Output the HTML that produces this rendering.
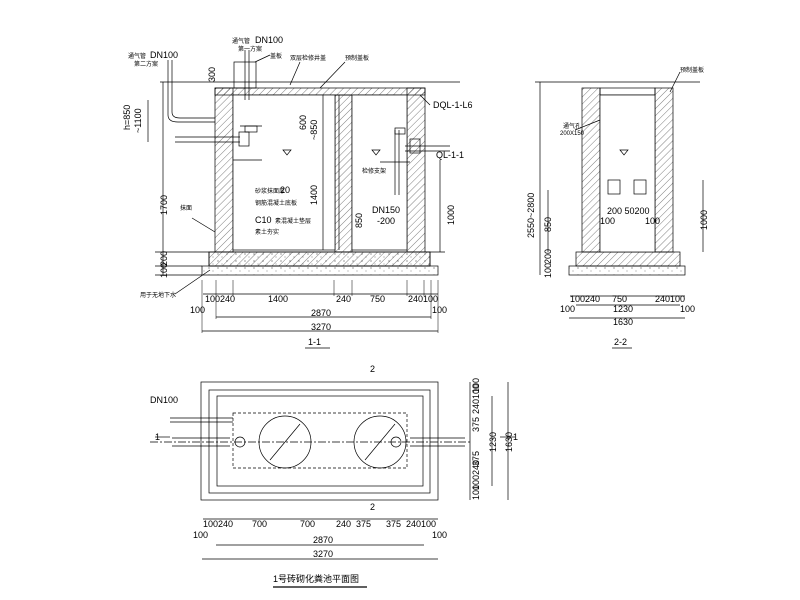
<!DOCTYPE html>
<html><head><meta charset="utf-8"><style>
html,body{margin:0;padding:0;background:#fff}
svg{display:block}
text{font-family:"Liberation Sans","Noto Sans CJK SC",sans-serif;fill:#000}
.t{font-size:9px}
.s{font-size:6px}
</style></head><body>
<svg width="800" height="600" viewBox="0 0 800 600" xmlns="http://www.w3.org/2000/svg">
<defs>
<pattern id="h" width="5" height="5" patternUnits="userSpaceOnUse" patternTransform="rotate(45)">
<line x1="0" y1="0" x2="0" y2="5" stroke="#000" stroke-width="0.5"/></pattern>
<pattern id="c" width="9" height="7" patternUnits="userSpaceOnUse">
<circle cx="2" cy="2" r="0.5" fill="#000"/><circle cx="6" cy="5" r="0.4" fill="#000"/></pattern>
</defs>
<g fill="none" stroke="#000" stroke-width="0.7">
<!-- ===== 1-1 ===== -->
<line x1="160" y1="82" x2="460" y2="82"/>
<rect x="202" y="266" width="236" height="9" fill="url(#c)"/>
<rect x="209" y="252" width="221" height="14" fill="url(#h)"/>
<rect x="209" y="252" width="221" height="14" fill="url(#c)"/>
<rect x="215" y="88" width="18" height="164" fill="url(#h)"/>
<rect x="335" y="95" width="17" height="157" fill="url(#h)"/>
<rect x="407" y="88" width="18" height="164" fill="url(#h)"/>
<rect x="215" y="88" width="210" height="7" fill="url(#h)"/>
<rect x="233" y="95" width="102" height="155" fill="#fff"/>
<rect x="352" y="95" width="55" height="155" fill="#fff"/>
<line x1="323" y1="95" x2="323" y2="250"/>
<line x1="339" y1="95" x2="339" y2="250"/>
<rect x="234" y="62" width="22" height="26"/>
<line x1="245" y1="50" x2="245" y2="100"/><line x1="249" y1="50" x2="249" y2="100"/>
<line x1="168" y1="60" x2="168" y2="115"/><line x1="172" y1="60" x2="172" y2="112"/>
<path d="M168 115 Q168 122 178 122 L215 122 M172 112 Q172 118 180 118 L215 118"/>
<line x1="175" y1="137" x2="240" y2="137"/><line x1="175" y1="142" x2="240" y2="142"/>
<rect x="239" y="132" width="10" height="14"/>
<line x1="240" y1="126" x2="262" y2="126"/><rect x="245" y="126" width="12" height="6"/>
<line x1="233" y1="160" x2="262" y2="160"/>
<line x1="395" y1="130" x2="395" y2="195"/><line x1="399" y1="130" x2="399" y2="195"/>
<rect x="395" y="128" width="10" height="6"/>
<rect x="410" y="139" width="10" height="14"/>
<line x1="405" y1="146" x2="450" y2="146"/><line x1="405" y1="151" x2="450" y2="151"/>
<line x1="380" y1="162" x2="410" y2="162"/>
<path d="M283 150 l4 5 l4 -5 z"/><path d="M372 150 l4 5 l4 -5 z"/>
<line x1="163" y1="82" x2="163" y2="275"/>
<line x1="148" y1="100" x2="148" y2="142"/>
<line x1="155" y1="252" x2="209" y2="252"/><line x1="155" y1="266" x2="202" y2="266"/><line x1="155" y1="275" x2="202" y2="275"/>
<line x1="440" y1="160" x2="440" y2="252"/><line x1="425" y1="252" x2="445" y2="252"/>
<line x1="203" y1="294" x2="438" y2="294"/>
<line x1="216" y1="317" x2="431" y2="317"/>
<line x1="202" y1="331" x2="438" y2="331"/>
<g stroke-width="0.5">
<line x1="202" y1="280" x2="202" y2="333"/><line x1="216" y1="280" x2="216" y2="319"/><line x1="233" y1="280" x2="233" y2="296"/><line x1="334" y1="280" x2="334" y2="296"/><line x1="352" y1="280" x2="352" y2="296"/><line x1="407" y1="280" x2="407" y2="296"/><line x1="424" y1="280" x2="424" y2="296"/><line x1="431" y1="280" x2="431" y2="319"/><line x1="438" y1="280" x2="438" y2="333"/>
</g>
<line x1="305" y1="348" x2="330" y2="348"/>
<line x1="175" y1="294" x2="210" y2="270"/><line x1="192" y1="218" x2="215" y2="232"/>
<line x1="255" y1="62" x2="270" y2="55"/><line x1="290" y1="85" x2="300" y2="62"/><line x1="320" y1="88" x2="345" y2="62"/><line x1="420" y1="95" x2="430" y2="105"/>
<!-- ===== 2-2 ===== -->
<line x1="535" y1="82" x2="700" y2="82"/>
<rect x="569" y="266" width="116" height="9" fill="url(#c)"/>
<rect x="576" y="252" width="104" height="14" fill="url(#h)"/>
<rect x="582" y="88" width="18" height="164" fill="url(#h)"/>
<rect x="655" y="88" width="18" height="164" fill="url(#h)"/>
<rect x="600" y="88" width="55" height="7"/>
<rect x="600" y="95" width="55" height="157" fill="#fff"/>
<rect x="608" y="180" width="12" height="14"/><rect x="634" y="180" width="12" height="14"/>
<path d="M620 150 l4 5 l4 -5 z"/>
<line x1="540" y1="82" x2="540" y2="275"/>
<line x1="548" y1="190" x2="548" y2="252"/>
<line x1="703" y1="180" x2="703" y2="252"/>
<line x1="570" y1="296" x2="685" y2="296"/>
<line x1="576" y1="305" x2="680" y2="305"/>
<line x1="569" y1="318" x2="685" y2="318"/>
<line x1="612" y1="348" x2="632" y2="348"/>
<line x1="680" y1="72" x2="670" y2="92"/><line x1="575" y1="130" x2="600" y2="120"/>
<!-- ===== plan ===== -->
<rect x="201" y="382" width="237" height="118"/>
<rect x="209" y="390" width="221" height="103"/>
<rect x="217" y="396" width="206" height="90"/>
<rect x="233" y="413" width="174" height="55" stroke-dasharray="3,2"/>
<circle cx="285" cy="442" r="26"/><circle cx="380" cy="442" r="26"/>
<line x1="270" y1="460" x2="300" y2="424"/><line x1="365" y1="460" x2="395" y2="424"/>
<line x1="150" y1="442" x2="470" y2="442" stroke-dasharray="8,2,2,2"/>
<line x1="172" y1="438" x2="230" y2="438"/><line x1="172" y1="446" x2="230" y2="446"/>
<line x1="410" y1="438" x2="465" y2="438"/><line x1="410" y1="446" x2="465" y2="446"/>
<circle cx="240" cy="442" r="5"/><circle cx="396" cy="442" r="5"/>
<line x1="170" y1="418" x2="233" y2="418"/><line x1="170" y1="422" x2="233" y2="422"/>
<line x1="203" y1="519" x2="438" y2="519"/>
<line x1="216" y1="545" x2="424" y2="545"/>
<line x1="202" y1="559" x2="438" y2="559"/>
<line x1="470" y1="382" x2="470" y2="500"/>
<line x1="492" y1="396" x2="492" y2="486"/>
<line x1="508" y1="382" x2="508" y2="500"/>
<line x1="273" y1="587" x2="367" y2="587" stroke-width="1.2"/>
<line x1="155" y1="437" x2="170" y2="437"/><line x1="500" y1="437" x2="515" y2="437"/>
</g>
<g class="t">
<text x="255" y="43">DN100</text><text x="150" y="58">DN100</text>
<text x="130" y="130" transform="rotate(-90 130 130)">h=850</text>
<text x="141" y="133" transform="rotate(-90 141 133)">~1100</text>
<text x="167" y="215" transform="rotate(-90 167 215)">1700</text>
<text x="167" y="266" transform="rotate(-90 167 266)">200</text>
<text x="167" y="278" transform="rotate(-90 167 278)">100</text>
<text x="215" y="82" transform="rotate(-90 215 82)">300</text>
<text x="306" y="130" transform="rotate(-90 306 130)">600</text>
<text x="317" y="140" transform="rotate(-90 317 140)">~850</text>
<text x="317" y="205" transform="rotate(-90 317 205)">1400</text>
<text x="362" y="228" transform="rotate(-90 362 228)">850</text>
<text x="372" y="213">DN150</text><text x="377" y="224">-200</text>
<text x="433" y="108">DQL-1-L6</text><text x="436" y="158">QL-1-1</text>
<text x="454" y="225" transform="rotate(-90 454 225)">1000</text>
<text x="205" y="302">100240</text><text x="268" y="302">1400</text><text x="336" y="302">240</text><text x="370" y="302">750</text><text x="408" y="302">240100</text>
<text x="190" y="313">100</text><text x="432" y="313">100</text>
<text x="311" y="316">2870</text><text x="311" y="330">3270</text>
<text x="308" y="345">1-1</text>
<text x="280" y="193">20</text><text x="255" y="223">C10</text>
<text x="534" y="238" transform="rotate(-90 534 238)">2550~2800</text>
<text x="551" y="232" transform="rotate(-90 551 232)">850</text>
<text x="551" y="264" transform="rotate(-90 551 264)">200</text>
<text x="551" y="278" transform="rotate(-90 551 278)">100</text>
<text x="707" y="230" transform="rotate(-90 707 230)">1000</text>
<text x="607" y="214">200 50200</text><text x="600" y="224">100</text><text x="645" y="224">100</text>
<text x="570" y="302">100240</text><text x="612" y="302">750</text><text x="655" y="302">240100</text>
<text x="560" y="312">100</text><text x="613" y="312">1230</text><text x="680" y="312">100</text>
<text x="613" y="325">1630</text>
<text x="614" y="345">2-2</text>
<text x="150" y="403">DN100</text>
<text x="203" y="527">100240</text><text x="252" y="527">700</text><text x="300" y="527">700</text><text x="336" y="527">240</text><text x="356" y="527">375</text><text x="386" y="527">375</text><text x="406" y="527">240100</text>
<text x="193" y="538">100</text><text x="432" y="538">100</text>
<text x="313" y="543">2870</text><text x="313" y="557">3270</text>
<text x="479" y="393" transform="rotate(-90 479 393)">100</text>
<text x="479" y="414" transform="rotate(-90 479 414)">240100</text>
<text x="479" y="432" transform="rotate(-90 479 432)">375</text>
<text x="479" y="466" transform="rotate(-90 479 466)">375</text>
<text x="479" y="490" transform="rotate(-90 479 490)">100240</text>
<text x="479" y="500" transform="rotate(-90 479 500)">100</text>
<text x="496" y="452" transform="rotate(-90 496 452)">1230</text>
<text x="512" y="452" transform="rotate(-90 512 452)">1630</text>
<text x="155" y="440">1</text><text x="513" y="440">1</text>
<text x="370" y="372">2</text><text x="370" y="510">2</text>
<text x="273" y="582">1号砖砌化粪池平面图</text>
</g>
<g class="s">
<text x="232" y="43">通气管</text><text x="238" y="51">第一方案</text>
<text x="128" y="58">通气管</text><text x="134" y="66">第二方案</text>
<text x="270" y="58">盖板</text><text x="290" y="60">双层检修井盖</text><text x="345" y="60">预制盖板</text>
<text x="255" y="193">砂浆抹面厚</text><text x="255" y="205">钢筋混凝土底板</text><text x="275" y="223">素混凝土垫层</text><text x="255" y="234">素土夯实</text>
<text x="362" y="173">检修支架</text><text x="180" y="210">抹面</text><text x="140" y="297">用于无地下水</text>
<text x="680" y="72">预制盖板</text><text x="563" y="128">通气孔</text><text x="560" y="135">200X150</text>
</g>
</svg>
</body></html>
